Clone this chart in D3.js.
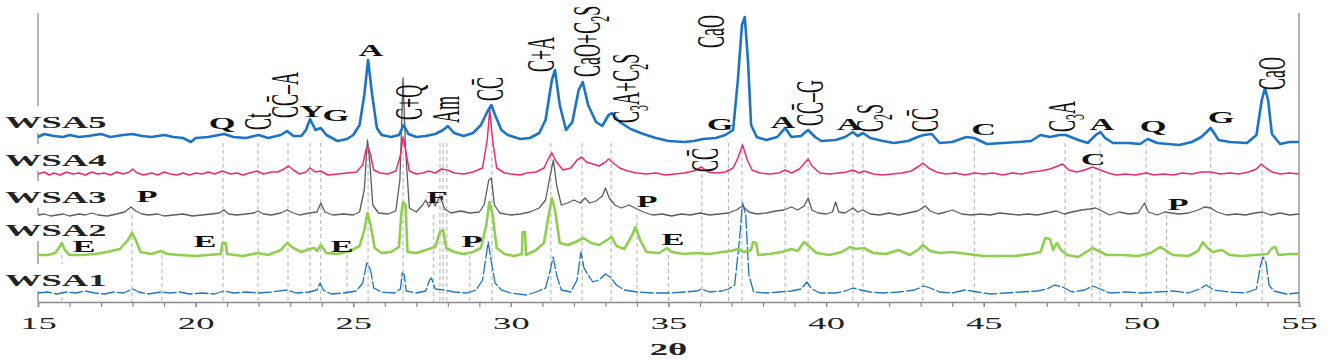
<!DOCTYPE html>
<html>
<head>
<meta charset="utf-8">
<script src="https://cdn.jsdelivr.net/npm/d3@7"></script>
<style>
  body { margin: 0; background: #fff; }
  text { font-family: "Liberation Serif", "Times New Roman", serif; }
</style>
</head>
<body>
<script>
// XRD patterns, [2theta, intensity a.u.]
const seriesNames = ["WSA1", "WSA2", "WSA3", "WSA4", "WSA5"];
const offsets = [0, 38, 78, 119, 156];
const labelLevels = [16, 66, 99, 136, 174];
const colors = ["#1b74c6", "#8fcf4f", "#5c5c5c", "#f0286e", "#1b74c6"];

const wsa5 = [[15.0,9],[15.2,12],[15.5,10],[15.8,9],[16.0,11],[16.3,9],[16.6,10],[17.0,12],[17.3,9],[17.7,11],[18.0,12],[18.3,10],[18.6,9],[19.0,11],[19.3,9],[19.6,8],[19.85,4],[20.0,8],[20.4,9],[20.9,12],[21.2,9],[21.6,8],[22.0,11],[22.3,8],[22.7,11],[22.9,15],[23.1,10],[23.35,10],[23.5,16],[23.63,27],[23.8,16],[23.97,18],[24.15,11],[24.5,5],[24.8,7],[25.0,11],[25.2,21],[25.35,51],[25.47,86],[25.6,51],[25.75,18],[25.9,11],[26.2,9],[26.45,11],[26.6,21],[26.75,12],[27.0,9],[27.3,10],[27.6,12],[27.85,16],[28.0,20],[28.2,13],[28.5,10],[28.8,13],[29.05,21],[29.25,34],[29.38,41],[29.5,31],[29.7,16],[29.9,11],[30.3,7],[30.6,8],[30.9,13],[31.1,26],[31.3,66],[31.4,76],[31.55,41],[31.75,16],[31.95,24],[32.15,56],[32.28,64],[32.45,41],[32.7,24],[32.9,20],[33.1,31],[33.2,33],[33.45,24],[33.8,17],[34.2,12],[34.6,8],[35.0,5],[35.5,4],[35.8,5],[36.1,7],[36.5,8],[36.8,11],[37.05,16],[37.2,66],[37.33,121],[37.42,129],[37.52,86],[37.62,21],[37.8,9],[38.1,6],[38.45,9],[38.7,18],[38.9,9],[39.2,10],[39.43,16],[39.65,9],[39.85,5],[40.3,6],[40.6,9],[40.85,14],[41.0,10],[41.17,13],[41.4,8],[41.8,5],[42.15,3],[42.6,5],[42.9,9],[43.1,11],[43.35,12],[43.6,3],[44.0,4],[44.45,9],[44.7,8],[45.1,2],[45.6,3],[46.1,4],[46.5,5],[46.8,11],[47.1,9],[47.4,11],[47.6,11],[48.0,6],[48.3,3],[48.55,11],[48.7,14],[48.85,8],[49.1,3],[49.6,3],[49.96,2],[50.2,7],[50.5,3],[51.2,1],[51.6,4],[51.9,9],[52.2,18],[52.45,6],[52.8,4],[53.35,3],[53.65,11],[53.82,46],[53.92,58],[54.02,46],[54.14,12],[54.4,2],[54.7,4],[55.0,4]];

const wsa4 = [[15.0,9],[15.2,11],[15.35,8],[15.5,10],[15.7,8],[15.9,11],[16.1,9],[16.3,10],[16.5,8],[16.7,11],[16.9,9],[17.1,10],[17.3,8],[17.5,11],[17.7,9],[17.9,11],[18.0,14],[18.15,10],[18.35,8],[18.6,10],[18.8,8],[19.0,11],[19.2,9],[19.4,8],[19.6,10],[19.8,8],[20.0,10],[20.2,9],[20.4,11],[20.6,9],[20.85,12],[21.1,9],[21.3,10],[21.5,8],[21.7,10],[21.95,12],[22.15,9],[22.4,11],[22.6,11],[22.8,14],[22.95,17],[23.1,13],[23.3,9],[23.5,11],[23.63,15],[23.8,11],[23.97,12],[24.2,8],[24.5,9],[24.8,10],[25.1,11],[25.3,18],[25.4,33],[25.47,36],[25.55,28],[25.65,13],[25.85,10],[26.1,9],[26.35,12],[26.5,28],[26.58,46],[26.66,33],[26.78,12],[27.0,9],[27.2,10],[27.4,12],[27.6,10],[27.8,14],[28.0,13],[28.2,10],[28.5,9],[28.8,11],[29.1,15],[29.25,43],[29.33,73],[29.42,43],[29.55,15],[29.8,10],[30.0,9],[30.3,8],[30.5,10],[30.8,11],[31.05,15],[31.2,25],[31.3,30],[31.45,21],[31.65,13],[31.9,15],[32.1,23],[32.25,26],[32.4,21],[32.6,19],[32.8,17],[33.0,21],[33.1,24],[33.25,20],[33.45,15],[33.7,12],[34.0,10],[34.3,9],[34.6,10],[34.9,8],[35.2,9],[35.5,10],[35.8,12],[36.05,16],[36.25,11],[36.5,10],[36.8,11],[37.05,15],[37.2,25],[37.35,38],[37.5,23],[37.65,13],[37.9,10],[38.2,9],[38.5,10],[38.7,13],[38.9,10],[39.15,14],[39.35,21],[39.43,24],[39.55,17],[39.8,10],[40.1,9],[40.4,10],[40.65,11],[40.85,13],[41.05,10],[41.2,12],[41.5,9],[41.8,8],[42.1,9],[42.4,10],[42.7,12],[42.95,17],[43.07,20],[43.25,15],[43.5,11],[43.8,9],[44.1,10],[44.4,8],[44.7,10],[45.0,9],[45.3,10],[45.6,8],[45.9,10],[46.2,9],[46.5,11],[46.8,12],[47.1,14],[47.35,17],[47.5,19],[47.7,13],[47.95,11],[48.2,13],[48.45,16],[48.7,13],[48.95,10],[49.2,8],[49.5,9],[49.8,8],[50.15,10],[50.4,8],[50.7,9],[51.0,8],[51.3,10],[51.6,9],[51.9,11],[52.2,11],[52.5,9],[52.8,10],[53.1,9],[53.4,11],[53.65,14],[53.8,19],[53.95,15],[54.15,11],[54.4,9],[54.7,10],[55.0,9]];

const wsa3 = [[15.0,9],[15.2,10],[15.4,8],[15.6,9],[15.8,10],[16.0,8],[16.3,10],[16.5,9],[16.7,11],[16.9,9],[17.2,8],[17.5,10],[17.75,12],[17.95,17],[18.1,13],[18.3,10],[18.5,9],[18.8,10],[19.0,8],[19.3,9],[19.6,10],[19.9,8],[20.2,9],[20.5,10],[20.75,11],[20.9,14],[21.05,10],[21.3,9],[21.6,10],[21.85,11],[21.98,13],[22.15,10],[22.4,9],[22.7,11],[22.9,14],[23.1,11],[23.3,9],[23.6,11],[23.85,12],[23.97,21],[24.1,12],[24.35,9],[24.7,10],[25.0,9],[25.2,12],[25.35,34],[25.45,84],[25.52,64],[25.62,19],[25.8,11],[26.1,10],[26.35,13],[26.48,44],[26.58,146],[26.66,74],[26.78,16],[27.0,12],[27.2,19],[27.3,24],[27.4,17],[27.5,23],[27.6,18],[27.75,28],[27.9,15],[28.1,11],[28.4,13],[28.7,11],[29.0,12],[29.15,19],[29.3,44],[29.38,46],[29.48,19],[29.65,11],[30.0,9],[30.3,10],[30.6,12],[30.9,16],[31.1,24],[31.25,49],[31.35,64],[31.45,39],[31.6,19],[31.8,21],[32.0,24],[32.2,21],[32.35,26],[32.5,21],[32.7,23],[32.9,28],[33.0,36],[33.12,26],[33.3,19],[33.5,16],[33.75,19],[34.0,15],[34.2,12],[34.5,9],[34.8,10],[35.1,8],[35.4,10],[35.7,9],[36.0,11],[36.3,9],[36.6,10],[36.9,11],[37.15,14],[37.35,18],[37.55,12],[37.8,10],[38.1,11],[38.4,13],[38.65,14],[38.9,17],[39.1,14],[39.3,18],[39.43,26],[39.55,14],[39.75,11],[40.0,10],[40.2,12],[40.3,22],[40.4,12],[40.6,11],[40.85,16],[41.0,12],[41.17,14],[41.4,10],[41.7,9],[42.0,11],[42.3,9],[42.6,11],[42.9,13],[43.15,18],[43.3,13],[43.55,10],[43.8,12],[44.0,14],[44.3,10],[44.6,9],[44.9,10],[45.2,9],[45.5,11],[45.8,10],[46.1,9],[46.4,10],[46.7,9],[47.0,11],[47.3,13],[47.55,10],[47.8,12],[48.1,14],[48.35,15],[48.55,16],[48.75,13],[49.0,9],[49.3,12],[49.6,10],[49.9,11],[50.1,21],[50.22,12],[50.5,9],[50.75,12],[50.95,11],[51.2,10],[51.5,11],[51.8,14],[52.0,17],[52.2,16],[52.4,12],[52.7,9],[53.0,10],[53.3,9],[53.6,11],[53.85,12],[54.1,9],[54.4,11],[54.7,9],[55.0,10]];

const wsa2 = [[15.0,9],[15.3,9],[15.55,11],[15.7,18],[15.76,21],[15.85,14],[16.0,9],[16.4,9],[16.8,10],[17.2,12],[17.6,15],[17.85,24],[17.98,31],[18.1,24],[18.25,12],[18.6,10],[18.9,13],[19.1,10],[19.5,9],[20.0,8],[20.4,9],[20.8,10],[20.85,21],[20.95,21],[21.0,10],[21.5,8],[21.98,11],[22.3,9],[22.7,14],[22.9,21],[23.1,16],[23.35,12],[23.6,15],[23.75,16],[23.85,13],[23.97,19],[24.15,11],[24.5,10],[24.9,13],[25.2,18],[25.35,34],[25.45,51],[25.55,39],[25.68,16],[25.9,11],[26.2,12],[26.45,17],[26.52,49],[26.58,62],[26.66,59],[26.72,12],[27.0,11],[27.3,14],[27.6,17],[27.75,32],[27.85,34],[27.95,16],[28.2,12],[28.5,10],[28.8,12],[29.05,16],[29.22,39],[29.32,62],[29.42,49],[29.55,16],[29.8,10],[30.1,8],[30.35,10],[30.37,32],[30.45,32],[30.48,9],[30.8,14],[31.05,21],[31.2,49],[31.3,66],[31.4,54],[31.55,21],[31.8,19],[32.05,22],[32.3,26],[32.55,21],[32.8,19],[33.05,24],[33.2,27],[33.35,18],[33.6,15],[33.85,29],[33.95,37],[34.1,24],[34.3,12],[34.7,11],[34.95,16],[35.1,12],[35.5,10],[35.9,11],[36.3,10],[36.7,12],[37.0,13],[37.2,15],[37.4,12],[37.62,14],[37.68,22],[37.78,21],[37.85,9],[38.2,10],[38.6,12],[38.9,15],[39.1,13],[39.3,22],[39.45,18],[39.7,11],[40.1,9],[40.5,12],[40.75,17],[40.95,15],[41.2,16],[41.5,11],[41.9,10],[42.3,14],[42.65,9],[42.95,15],[43.07,19],[43.3,13],[43.6,11],[44.0,12],[44.5,10],[45.0,8],[45.5,8],[46.0,8],[46.5,10],[46.8,12],[46.95,26],[47.1,25],[47.2,14],[47.32,21],[47.45,14],[47.65,9],[48.0,7],[48.3,13],[48.45,16],[48.65,13],[48.9,9],[49.4,9],[49.9,8],[50.3,11],[50.6,17],[50.8,13],[51.0,9],[51.5,8],[51.8,13],[51.95,22],[52.1,16],[52.25,12],[52.55,14],[52.8,9],[53.2,8],[53.6,9],[54.0,10],[54.15,16],[54.25,17],[54.35,9],[54.7,10],[55.0,10]];

const wsa1 = [[15.0,9],[15.3,10],[15.6,8],[15.9,10],[16.2,9],[16.5,11],[16.8,9],[17.1,8],[17.4,10],[17.7,9],[18.0,13],[18.2,10],[18.5,8],[18.9,10],[19.2,9],[19.5,10],[19.8,8],[20.2,9],[20.6,8],[20.9,11],[21.2,9],[21.6,10],[22.0,9],[22.4,10],[22.9,12],[23.2,9],[23.6,10],[23.85,12],[23.95,19],[24.05,12],[24.3,8],[24.7,9],[25.1,11],[25.3,19],[25.43,39],[25.55,32],[25.65,14],[25.9,10],[26.3,9],[26.5,13],[26.55,29],[26.62,27],[26.68,11],[27.0,9],[27.3,11],[27.42,22],[27.48,24],[27.6,13],[27.9,12],[28.2,10],[28.6,9],[28.9,12],[29.1,22],[29.22,47],[29.28,60],[29.38,40],[29.5,19],[29.7,12],[30.0,9],[30.5,7],[30.8,10],[31.1,14],[31.25,32],[31.34,45],[31.45,27],[31.6,12],[31.9,10],[32.1,22],[32.22,50],[32.32,34],[32.45,27],[32.6,20],[32.8,22],[33.0,28],[33.15,25],[33.35,17],[33.6,12],[34.0,10],[34.5,9],[35.0,9],[35.5,10],[35.9,11],[36.05,13],[36.3,10],[36.7,11],[36.9,13],[37.1,17],[37.25,62],[37.35,99],[37.45,87],[37.55,27],[37.7,10],[38.1,9],[38.5,10],[38.9,11],[39.2,13],[39.39,20],[39.55,13],[39.8,9],[40.3,9],[40.6,11],[40.85,14],[41.1,12],[41.4,10],[41.8,9],[42.3,10],[42.8,12],[43.1,16],[43.3,14],[43.6,10],[44.0,9],[44.4,12],[44.8,10],[45.2,8],[45.7,9],[46.2,10],[46.7,11],[47.0,13],[47.25,17],[47.5,15],[47.8,10],[48.2,12],[48.45,16],[48.7,13],[49.0,9],[49.5,10],[50.0,9],[50.5,10],[51.0,11],[51.5,9],[51.85,13],[52.05,17],[52.3,12],[52.8,10],[53.3,9],[53.65,13],[53.78,37],[53.86,45],[53.95,40],[54.05,17],[54.2,11],[54.6,8],[55.0,9]];

const patterns = [wsa1, wsa2, wsa3, wsa4, wsa5];

// reference peak positions (dashed guides), grouped by the pattern they start from
const refMain = [20.87, 21.98, 22.93, 23.63, 23.97, 25.47, 26.58, 27.75, 27.85, 27.97, 29.4, 31.27, 32.26, 33.18, 36.9, 37.33, 38.7, 39.43, 40.85, 41.17, 43.07, 44.7, 47.58, 48.69, 50.15, 52.2, 53.83];
const refWSA4 = [36.06, 48.43];
const refWSA3 = [17.98, 27.55, 34.0, 50.8];
const refWSA2 = [15.76, 18.93, 24.8, 28.7, 35.0];

// phase labels: [text, 2theta, level, rotated]  ("_x" = subscript, "~" = C with bar)
const phaseLabels = [
  ["Q", 20.84, 173, 0], ["Ct", 21.98, 172, 1], ["C~–A", 22.84, 184, 1],
  ["Y", 23.68, 185, 0], ["G", 24.45, 181, 0], ["A", 25.56, 246, 0],
  ["C+Q", 26.77, 182, 1], ["Am", 27.94, 179, 1], ["C~", 29.34, 201, 1],
  ["C+A", 30.96, 230, 1], ["CaO+C_2S", 32.41, 225, 1], ["C_3A+C_2S", 33.65, 179, 1],
  ["CaO", 36.35, 254, 1], ["G", 36.64, 172, 0], ["C~", 36.16, 130, 1],
  ["A", 38.63, 174, 0], ["C~–G", 39.49, 176, 1], ["A", 40.73, 172, 0],
  ["C_2S", 41.39, 170, 1], ["C~", 43.14, 170, 1], ["C", 45.0, 167, 0],
  ["C_3A", 47.48, 170, 1], ["A", 48.75, 172, 0], ["C", 48.47, 137, 0],
  ["Q", 50.37, 170, 0], ["G", 52.53, 179, 0], ["CaO", 54.14, 212, 1],
  ["P", 18.46, 100, 0], ["F", 27.66, 99, 0], ["P", 34.32, 95, 0], ["P", 51.16, 92, 0],
  ["E", 16.46, 50, 0], ["E", 20.30, 55, 0], ["E", 24.64, 50, 0], ["P", 28.77, 55, 0], ["E", 35.14, 57, 0]
];

const majorTicks = [15, 20, 25, 30, 35, 40, 45, 50, 55];

const w = 1332, h = 360;
const stretch = 2.15;

const x = d3.scaleLinear().domain([15, 55]).range([38, 1299]);
const y = d3.scaleLinear().domain([0, 290]).range([302, 12]);

const svg = d3.select("body").append("svg")
  .attr("width", w)
  .attr("height", h);

// dashed guides
const guides = [];
refMain.forEach(t => guides.push([t, offsets[4] + 3]));
refWSA4.forEach(t => guides.push([t, offsets[3] + 9]));
refWSA3.forEach(t => guides.push([t, offsets[2] + 9]));
refWSA2.forEach(t => guides.push([t, offsets[1] + 9]));

svg.selectAll("line.guide")
  .data(guides)
  .enter()
  .append("line")
  .attr("class", "guide")
  .attr("x1", d => x(d[0]))
  .attr("x2", d => x(d[0]))
  .attr("y1", d => y(d[1]))
  .attr("y2", y(0))
  .attr("stroke", "#b0b0b0")
  .attr("stroke-width", 1)
  .attr("stroke-dasharray", "4,3");

// side frame lines
svg.selectAll("line.side")
  .data([15, 55])
  .enter()
  .append("line")
  .attr("class", "side")
  .attr("x1", d => x(d))
  .attr("x2", d => x(d))
  .attr("y1", y(289))
  .attr("y2", y(0))
  .attr("stroke", "#9a9a9a")
  .attr("stroke-width", 1.5);

// white boxes behind sample names
svg.selectAll("rect.namebox")
  .data(labelLevels)
  .enter()
  .append("rect")
  .attr("x", 3)
  .attr("y", d => y(d) - 22)
  .attr("width", 106)
  .attr("height", 27)
  .attr("fill", "#fff");

// x axis
const minor = svg.append("g")
  .attr("transform", "translate(0," + y(0) + ")")
  .call(d3.axisBottom(x).tickValues(d3.range(15, 56, 1)).tickSize(5).tickFormat(""));
minor.select(".domain").remove();
minor.selectAll("line").attr("stroke", "#8a8a8a").attr("stroke-width", 1.2);

const axis = svg.append("g")
  .attr("transform", "translate(0," + y(0) + ")")
  .call(d3.axisBottom(x).tickValues(majorTicks).tickSize(5).tickPadding(10).tickFormat(d3.format("d")));
axis.select(".domain").attr("stroke", "#8a8a8a").attr("stroke-width", 1.5);
axis.selectAll("line").attr("stroke", "#8a8a8a").attr("stroke-width", 1.2);
axis.selectAll("text")
  .attr("font-family", "Liberation Serif")
  .attr("font-size", "17px")
  .attr("fill", "#222")
  .attr("transform", "scale(" + stretch + ",1)");

svg.append("text")
  .attr("transform", "translate(" + x(35) + ",355) scale(2.3,1)")
  .attr("text-anchor", "middle")
  .attr("font-size", "16px")
  .attr("font-weight", "bold")
  .attr("fill", "#222")
  .text("2θ");

// patterns
const widths = [1.3, 2.6, 1.3, 1.5, 2.6];
patterns.forEach((p, i) => {
  const line = d3.line()
    .x(d => x(d[0]))
    .y(d => y(d[1] + offsets[i]));
  svg.append("path")
    .datum(p)
    .attr("fill", "none")
    .attr("stroke", colors[i])
    .attr("stroke-width", widths[i])
    .attr("stroke-linejoin", "round")
    .attr("stroke-dasharray", i === 0 ? "14,2" : null)
    .attr("d", line);
});

// sample names
svg.selectAll("text.name")
  .data(seriesNames)
  .enter()
  .append("text")
  .attr("class", "name")
  .attr("transform", (d, i) => "translate(5," + y(labelLevels[i]) + ") scale(" + stretch + ",1)")
  .attr("font-size", "17px")
  .attr("font-weight", "bold")
  .attr("fill", "#222")
  .text(d => d);

// phase labels
function addLabelText(sel, str) {
  let i = 0;
  let lowered = false;
  while (i < str.length) {
    const ch = str[i];
    if (ch === "_") {
      sel.append("tspan").attr("font-size", "12px").attr("dy", 4).text(str[i + 1]);
      lowered = true;
      i += 2;
      continue;
    }
    const part = sel.append("tspan").text(ch === "~" ? "C\u0304" : ch);
    if (lowered) {
      part.attr("dy", -4);
      lowered = false;
    }
    i += 1;
  }
}

phaseLabels.forEach(l => {
  const t = svg.append("text")
    .attr("fill", "#111");
  if (l[3]) {
    t.attr("transform", "translate(" + x(l[1]) + "," + y(l[2]) + ") rotate(-90) scale(1,2.2)")
      .attr("font-size", "18px")
      .attr("dy", "0.33em")
      .attr("text-anchor", "start");
  } else {
    t.attr("transform", "translate(" + x(l[1]) + "," + y(l[2]) + ") scale(" + stretch + ",1)")
      .attr("font-size", "16px")
      .attr("font-weight", "bold")
      .attr("text-anchor", "middle");
  }
  addLabelText(t, l[0]);
});
</script>
</body>
</html>
